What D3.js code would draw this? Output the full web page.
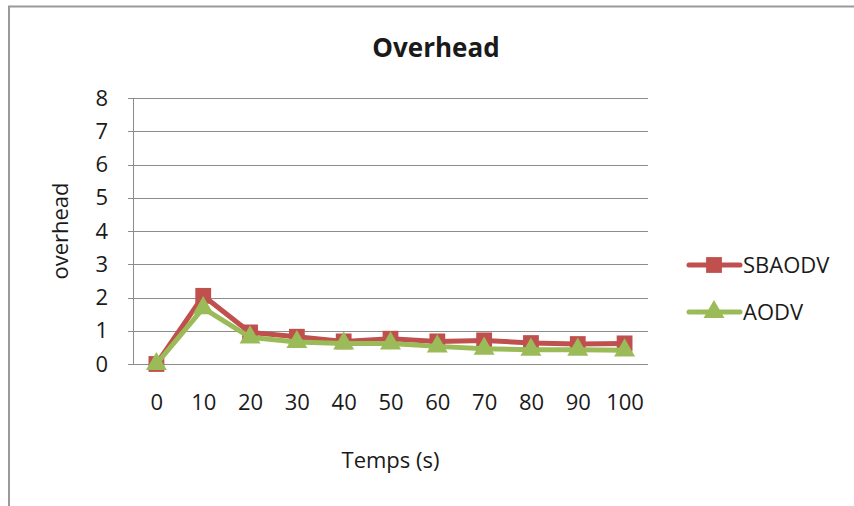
<!DOCTYPE html>
<html>
<head>
<meta charset="utf-8">
<script src="https://cdn.jsdelivr.net/npm/d3@7"></script>
<style>
  body { margin: 0; background: #fff; }
  svg { display: block; font-family: "Open Sans", sans-serif; }
</style>
</head>
<body>
<svg id="chart" width="854" height="506"></svg>
<script>
var categories = [0, 10, 20, 30, 40, 50, 60, 70, 80, 90, 100];
var sbaodv = [0, 2.05, 0.95, 0.82, 0.68, 0.76, 0.68, 0.71, 0.63, 0.6, 0.62];
var aodv   = [0, 1.68, 0.8, 0.66, 0.62, 0.62, 0.53, 0.46, 0.43, 0.43, 0.41];
var yTicks = [0, 1, 2, 3, 4, 5, 6, 7, 8];

var series = [
  {name: "SBAODV", values: sbaodv, color: "#C0504D", marker: "square"},
  {name: "AODV", values: aodv, color: "#9BBB59", marker: "triangle"}
];

var svg = d3.select("#chart"),
    margin = {top: 98, left: 133, right: 206, bottom: 142},
    width = 854 - margin.left - margin.right,
    height = 506 - margin.top - margin.bottom,
    g = svg.append("g").attr("transform", "translate(" + margin.left + "," + margin.top + ")");

var fontSize = 22;

// outer chart frame (only left and top edges visible in the crop)
svg.append("path")
    .attr("d", "M9,506V6.5H854")
    .attr("fill", "none")
    .attr("stroke", "#9a9a9a")
    .attr("stroke-width", 2);

var x = d3.scalePoint()
    .domain(categories)
    .range([0, width])
    .padding(0.5);

var y = d3.scaleLinear()
    .domain([0, 8])
    .range([height, 0]);

// gridlines
g.append("g")
  .selectAll("line")
  .data(yTicks)
  .enter().append("line")
    .attr("x1", -5)
    .attr("x2", width)
    .attr("y1", function(d) { return Math.round(y(d)) + 0.5; })
    .attr("y2", function(d) { return Math.round(y(d)) + 0.5; })
    .attr("stroke", "#8c8c8c")
    .attr("stroke-width", 1);

g.append("line")
    .attr("x1", 0.5).attr("x2", 0.5)
    .attr("y1", 0).attr("y2", height)
    .attr("stroke", "#8c8c8c");

// y axis labels
var yAxis = g.append("g")
    .call(d3.axisLeft(y).tickValues(yTicks).tickSize(0).tickPadding(25));
yAxis.select(".domain").remove();
yAxis.selectAll("text")
    .attr("font-size", fontSize)
    .attr("font-family", "Open Sans")
    .attr("fill", "#1a1a1a");

// x axis labels
var xAxis = g.append("g")
    .attr("transform", "translate(0," + height + ")")
    .call(d3.axisBottom(x).tickSize(0).tickPadding(30));
xAxis.select(".domain").remove();
xAxis.selectAll("text")
    .attr("font-size", fontSize)
    .attr("font-family", "Open Sans")
    .attr("fill", "#1a1a1a");

// titles
svg.append("text")
    .attr("x", 436)
    .attr("y", 57)
    .attr("text-anchor", "middle")
    .attr("font-size", 26)
    .attr("font-weight", "bold")
    .attr("fill", "#1a1a1a")
    .text("Overhead");

svg.append("text")
    .attr("x", margin.left + width / 2)
    .attr("y", 468)
    .attr("text-anchor", "middle")
    .attr("font-size", fontSize)
    .attr("fill", "#1a1a1a")
    .text("Temps (s)");

svg.append("text")
    .attr("transform", "translate(68," + (margin.top + height / 2) + ") rotate(-90)")
    .attr("text-anchor", "middle")
    .attr("font-size", fontSize)
    .attr("fill", "#1a1a1a")
    .text("overhead");

var line = d3.line()
    .x(function(d, i) { return x(categories[i]); })
    .y(function(d) { return y(d); });

var square = d3.symbol().type(d3.symbolSquare).size(250);
var triangle = d3.symbol().type(d3.symbolTriangle).size(190);

series.forEach(function(s) {
  g.append("path")
      .attr("d", line(s.values))
      .attr("fill", "none")
      .attr("stroke", s.color)
      .attr("stroke-width", 5)
      .attr("stroke-linejoin", "round");
  g.selectAll(".m-" + s.name)
    .data(s.values)
    .enter().append("path")
      .attr("class", "m-" + s.name)
      .attr("transform", function(d, i) { return "translate(" + x(categories[i]) + "," + y(d) + ")"; })
      .attr("d", s.marker == "square" ? square : triangle)
      .attr("fill", s.color);
});

// legend
var legend = svg.append("g")
  .selectAll("g")
  .data(series)
  .enter().append("g")
    .attr("transform", function(d, i) { return "translate(687," + (265 + i * 47) + ")"; });

legend.append("line")
    .attr("x1", 2).attr("x2", 53)
    .attr("stroke", function(d) { return d.color; })
    .attr("stroke-width", 5)
    .attr("stroke-linecap", "round");

legend.append("path")
    .attr("transform", "translate(27,0)")
    .attr("d", function(d) { return d.marker == "square" ? square() : triangle(); })
    .attr("fill", function(d) { return d.color; });

legend.append("text")
    .attr("x", 56)
    .attr("dy", "0.35em")
    .attr("font-size", fontSize)
    .attr("fill", "#1a1a1a")
    .text(function(d) { return d.name; });
</script>
</body>
</html>
